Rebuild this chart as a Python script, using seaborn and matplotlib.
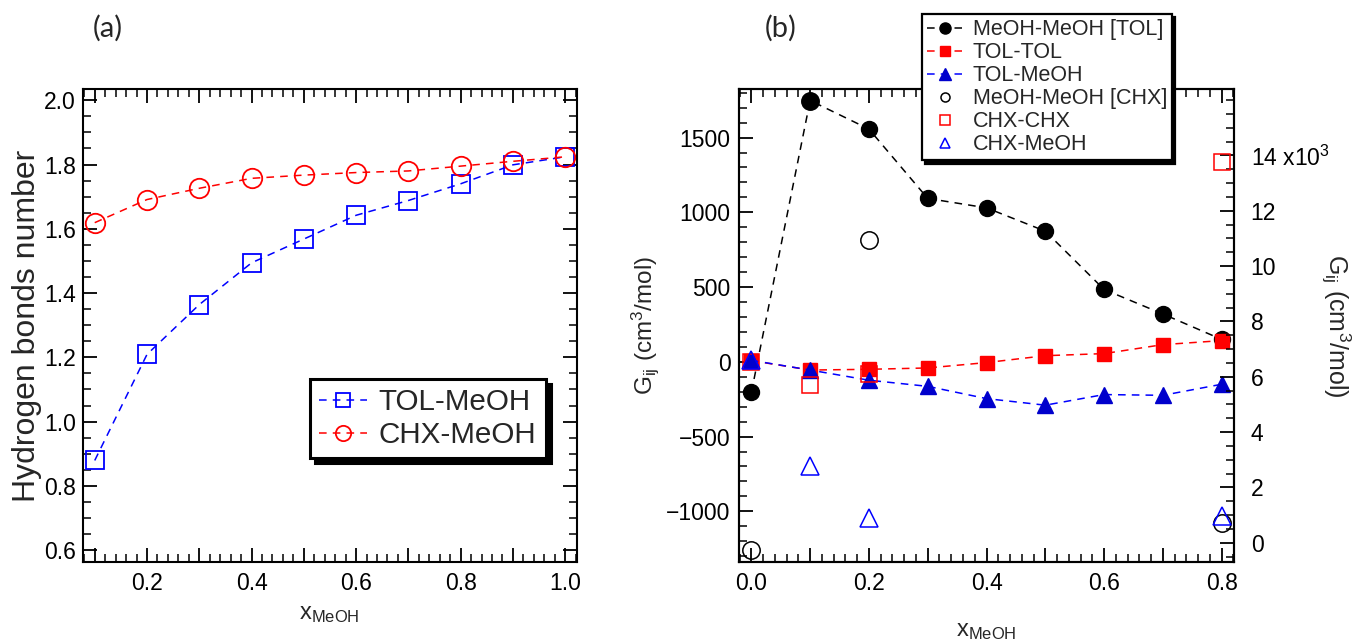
import matplotlib
matplotlib.use('Agg')
import matplotlib.pyplot as plt
import seaborn as sns
from matplotlib.lines import Line2D
from matplotlib.ticker import MultipleLocator, FixedLocator, FuncFormatter

# ---------------- data ----------------
# panel (a): hydrogen bonds number
x_a = [0.1, 0.2, 0.3, 0.4, 0.5, 0.6, 0.7, 0.8, 0.9, 1.0]
hb_tol = [0.879, 1.209, 1.364, 1.494, 1.568, 1.642, 1.688, 1.740, 1.799, 1.824]
hb_chx = [1.619, 1.691, 1.726, 1.757, 1.767, 1.775, 1.780, 1.795, 1.810, 1.824]

# panel (b): KB integrals, toluene system (left axis)
x_b = [0.0, 0.1, 0.2, 0.3, 0.4, 0.5, 0.6, 0.7, 0.8]
g_meoh_tol = [-205, 1748, 1557, 1093, 1030, 874, 484, 320, 150]
g_tol_tol = [8, -55, -50, -41, -5, 41, 55, 115, 142]
g_tol_meoh = [10, -55, -123, -164, -246, -290, -219, -224, -150]

# panel (b): cyclohexane system (right axis, cm3/mol)
x_chx = [0.0, 0.1, 0.2, 0.8]
g_meoh_chx = [-250, 15980, 10940, 710]
g_chx_chx = [6540, 5700, 6100, 13770]
g_chx_meoh = [6600, 2770, 890, 970]

right_ticks = [0, 2000, 4000, 6000, 8000, 10000, 12000, 14000]

# ---------------- style ----------------
sns.set_style('ticks')
plt.rcParams['font.family'] = ['Liberation Sans', 'DejaVu Sans']
plt.rcParams['mathtext.fontset'] = 'custom'
plt.rcParams['mathtext.rm'] = 'Liberation Sans'
plt.rcParams['mathtext.it'] = 'Liberation Sans:italic'
plt.rcParams['mathtext.bf'] = 'Liberation Sans:bold'

W, H = 1355, 640
fig = plt.figure(figsize=(W / 100, H / 100), dpi=100)
axA = fig.add_axes([82.7 / W, 1 - 562 / H, (576.7 - 82.7) / W, (562 - 89) / H])
axB = fig.add_axes([739 / W, 1 - 562 / H, (1234 - 739) / W, (562 - 89) / H])

TICK_FS = 16.5
DASH = (0, (5, 4))
BLUE = '#0000ff'
RED = '#ff0000'


def style_axis(ax):
    for s in ax.spines.values():
        s.set_linewidth(1.5)
        s.set_color('black')
    ax.tick_params(which='both', direction='in', colors='black', labelsize=TICK_FS)
    ax.tick_params(which='major', length=10, width=1.3)
    ax.tick_params(which='minor', length=5.5, width=1.1)


# ---------------- panel (a) ----------------
sns.lineplot(x=x_a, y=hb_tol, ax=axA, errorbar=None, color=BLUE, linestyle=DASH, lw=1.1,
             marker='s', markersize=13, markerfacecolor='none', markeredgecolor=BLUE,
             markeredgewidth=1.3)
sns.lineplot(x=x_a, y=hb_chx, ax=axA, errorbar=None, color=RED, linestyle=DASH, lw=1.1,
             marker='o', markersize=14, markerfacecolor='none', markeredgecolor=RED,
             markeredgewidth=1.3)
axA.set_xlim(0.077, 1.022)
axA.set_ylim(0.563, 2.035)
style_axis(axA)
axA.tick_params(which='both', top=True, right=True)
axA.tick_params(axis='x', pad=7)
axA.tick_params(axis='y', pad=5)
axA.xaxis.set_major_locator(FixedLocator([0.1 * i for i in range(1, 11)]))
axA.xaxis.set_major_formatter(FuncFormatter(
    lambda v, p: f'{v:.1f}' if round(v * 10) % 2 == 0 else ''))
axA.xaxis.set_minor_locator(MultipleLocator(0.02))
axA.yaxis.set_major_locator(MultipleLocator(0.2))
axA.yaxis.set_major_formatter(FuncFormatter(lambda v, p: f'{v:.1f}'))
axA.yaxis.set_minor_locator(MultipleLocator(0.05))
axA.set_xlabel(r'x$_{\mathrm{MeOH}}$', fontsize=17, labelpad=6)
axA.set_ylabel('Hydrogen bonds number', fontsize=23, labelpad=1)

hA = [Line2D([], [], color=BLUE, linestyle=DASH, lw=1.1, marker='s', markersize=10.5,
             markerfacecolor='none', markeredgecolor=BLUE, markeredgewidth=1.3),
      Line2D([], [], color=RED, linestyle=DASH, lw=1.1, marker='o', markersize=11,
             markerfacecolor='none', markeredgecolor=RED, markeredgewidth=1.3)]
legA = axA.legend(hA, ['TOL-MeOH', 'CHX-MeOH'], loc='upper left',
                  bbox_to_anchor=(310 / W, 1 - 379 / H), bbox_transform=fig.transFigure,
                  fontsize=21.3, frameon=True, fancybox=False, framealpha=1,
                  edgecolor='black', borderaxespad=0, borderpad=0.32, labelspacing=0.15,
                  handlelength=1.6, handletextpad=0.4,
                  shadow={'color': 'black', 'alpha': 1, 'ox': 3.5, 'oy': -3.5})
legA.get_frame().set_linewidth(2.2)

# ---------------- panel (b) ----------------
sns.lineplot(x=x_b, y=g_meoh_tol, ax=axB, errorbar=None, color='black', linestyle=DASH, lw=1.1,
             marker='o', markersize=11.5, markerfacecolor='black', markeredgecolor='black',
             markeredgewidth=1)
sns.lineplot(x=x_b, y=g_tol_tol, ax=axB, errorbar=None, color=RED, linestyle=DASH, lw=1.1,
             marker='s', markersize=10, markerfacecolor=RED, markeredgecolor=RED,
             markeredgewidth=1)
sns.lineplot(x=x_b, y=g_tol_meoh, ax=axB, errorbar=None, color=BLUE, linestyle=DASH, lw=1.1,
             marker='^', markersize=12, markerfacecolor='#0000cc', markeredgecolor='#0000cc',
             markeredgewidth=1)
axB.set_xlim(-0.021, 0.821)
axB.set_ylim(-1339, 1825)
style_axis(axB)
axB.tick_params(which='both', top=True, right=False)
axB.tick_params(axis='x', pad=7)
axB.tick_params(axis='y', pad=6)
axB.xaxis.set_major_locator(FixedLocator([0.1 * i for i in range(0, 9)]))
axB.xaxis.set_major_formatter(FuncFormatter(
    lambda v, p: f'{v:.1f}' if round(v * 10) % 2 == 0 else ''))
axB.xaxis.set_minor_locator(MultipleLocator(0.02))
axB.yaxis.set_major_locator(MultipleLocator(500))
axB.yaxis.set_major_formatter(FuncFormatter(lambda v, p: f'{int(round(v))}'.replace('-', '\u2212')))
axB.yaxis.set_minor_locator(MultipleLocator(100))
axB.set_xlabel(r'x$_{\mathrm{MeOH}}$', fontsize=17, labelpad=18.5)
axB.set_ylabel(r'G$_{\mathrm{ij}}$ (cm$^{3}$/mol)', fontsize=17.5, labelpad=4)

axR = axB.twinx()
sns.lineplot(x=x_chx, y=g_meoh_chx, ax=axR, errorbar=None, color='black', linestyle='none',
             marker='o', markersize=12.5, markerfacecolor='none', markeredgecolor='black',
             markeredgewidth=1.1)
sns.lineplot(x=x_chx, y=g_chx_chx, ax=axR, errorbar=None, color=RED, linestyle='none',
             marker='s', markersize=11.5, markerfacecolor='none', markeredgecolor=RED,
             markeredgewidth=1.1)
sns.lineplot(x=x_chx, y=g_chx_meoh, ax=axR, errorbar=None, color=BLUE, linestyle='none',
             marker='^', markersize=13, markerfacecolor='none', markeredgecolor=BLUE,
             markeredgewidth=1.1)
axR.set_ylim(-694, 16400)
style_axis(axR)
axR.tick_params(which='both', left=False, right=True)
axR.tick_params(axis='y', pad=12)
axR.yaxis.set_major_locator(FixedLocator(right_ticks))
axR.yaxis.set_major_formatter(FuncFormatter(
    lambda v, p: (r'14 x10$^{3}$' if round(v / 1000) == 14 else f'{int(round(v / 1000))}')))
axR.yaxis.set_minor_locator(MultipleLocator(500))
axR.set_ylabel(r'G$_{\mathrm{ij}}$ (cm$^{3}$/mol)', fontsize=18, rotation=270,
               ha='center', va='center')
axR.yaxis.set_label_coords((1336 - 739) / (1234 - 739), 0.5)
axR.set_xlabel('')

hB = [Line2D([], [], color='black', linestyle=DASH, lw=1.1, marker='o', markersize=8,
             markerfacecolor='black', markeredgecolor='black'),
      Line2D([], [], color=RED, linestyle=DASH, lw=1.1, marker='s', markersize=7.5,
             markerfacecolor=RED, markeredgecolor=RED),
      Line2D([], [], color=BLUE, linestyle=DASH, lw=1.1, marker='^', markersize=8.5,
             markerfacecolor='#0000cc', markeredgecolor='#0000cc'),
      Line2D([], [], linestyle='none', marker='o', markersize=6.5, markerfacecolor='none',
             markeredgecolor='black', markeredgewidth=1.1),
      Line2D([], [], linestyle='none', marker='s', markersize=6.5, markerfacecolor='none',
             markeredgecolor=RED, markeredgewidth=1.1),
      Line2D([], [], linestyle='none', marker='^', markersize=7.5, markerfacecolor='none',
             markeredgecolor=BLUE, markeredgewidth=1.1)]
labB = ['MeOH-MeOH [TOL]', 'TOL-TOL', 'TOL-MeOH', 'MeOH-MeOH [CHX]', 'CHX-CHX', 'CHX-MeOH']
legB = axR.legend(hB, labB, loc='upper left',
                  bbox_to_anchor=(922 / W, 1 - 14 / H), bbox_transform=fig.transFigure,
                  fontsize=15.5, frameon=True, fancybox=False, framealpha=1,
                  edgecolor='black', borderaxespad=0, borderpad=0.25, labelspacing=0.09,
                  handlelength=1.6, handletextpad=0.5,
                  shadow={'color': 'black', 'alpha': 1, 'ox': 2.2, 'oy': -2.2})
legB.get_frame().set_linewidth(1.6)

# panel letters
fig.text(108 / W, 1 - 28 / H, '(a)', fontsize=21, family=['Lato', 'DejaVu Sans'],
         ha='center', va='center')
fig.text(781 / W, 1 - 28 / H, '(b)', fontsize=21, family=['Lato', 'DejaVu Sans'],
         ha='center', va='center')

fig.savefig('out.png', dpi=100)
